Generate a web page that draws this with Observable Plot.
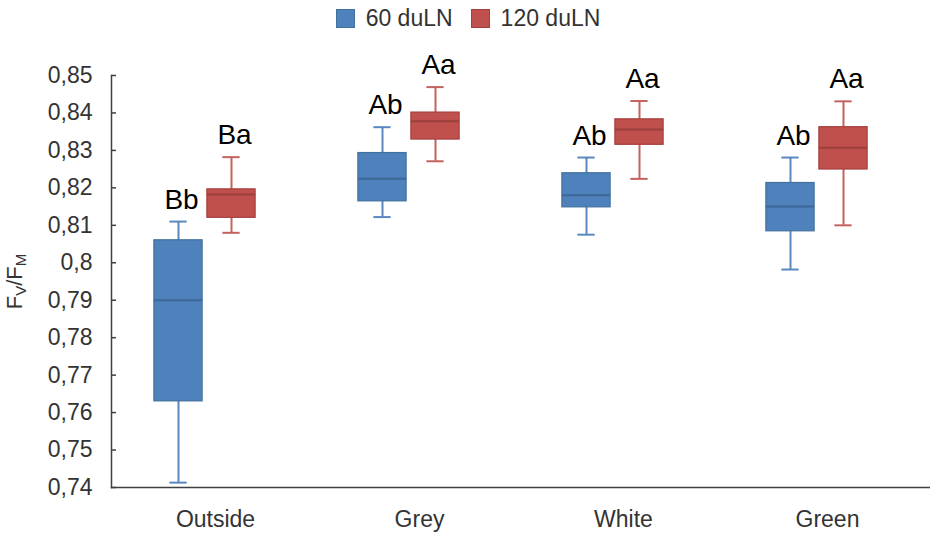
<!DOCTYPE html>
<html>
<head>
<meta charset="utf-8">
<script src="https://cdn.jsdelivr.net/npm/d3@7"></script>
<script src="https://cdn.jsdelivr.net/npm/@observablehq/plot@0.6"></script>
<style>
  html, body { margin: 0; padding: 0; background: #fff; }
  body { width: 930px; height: 533px; overflow: hidden; font-family: "Liberation Sans", Arial, sans-serif; }
  #legend { height: 36px; display: flex; align-items: center; justify-content: center; padding-left: 6px; box-sizing: border-box; font-size: 23px; color: #333; }
  .item { display: flex; align-items: center; }
  .sw { width: 19px; height: 19px; box-sizing: border-box; margin-right: 11px; }
  .item + .item { margin-left: 18px; }
</style>
</head>
<body>
<div id="legend"></div>
<div id="chart"></div>
<script>
// ---- data ----
const categories = ["Outside", "Grey", "White", "Green"];
const seriesNames = ["60 duLN", "120 duLN"];

const min60    = [0.7413, 0.8122, 0.8075, 0.7982];
const q1_60    = [0.7630, 0.8164, 0.8148, 0.8084];
const median60 = [0.7900, 0.8224, 0.8180, 0.8150];
const q3_60    = [0.8060, 0.8293, 0.8239, 0.8213];
const max60    = [0.8110, 0.8362, 0.8281, 0.8281];
const letters60 = ["Bb", "Ab", "Ab", "Ab"];

const min120    = [0.8080, 0.8271, 0.8224, 0.8100];
const q1_120    = [0.8120, 0.8329, 0.8315, 0.8249];
const median120 = [0.8182, 0.8378, 0.8356, 0.8307];
const q3_120    = [0.8196, 0.8401, 0.8383, 0.8362];
const max120    = [0.8282, 0.8469, 0.8432, 0.8431];
const letters120 = ["Ba", "Aa", "Aa", "Aa"];

const yTicks = d3.range(74, 86).map(v => v / 100);
const yDomain = [0.74, 0.85];

// ---- layout / style ----
const W = 930, H = 497, ML = 111, MR = 0, MT = 39, MB = 46;
const B = (W - ML - MR) / categories.length;   // band width
const BOX_W = 49, CAP_W = 18, TICK_LEN = 5;
const styles = {
  "60 duLN":  {off: -37, fill: "#4F81BD", stroke: "#41719C", whisker: "#5A87BE", median: "#3C6796"},
  "120 duLN": {off: 16,  fill: "#C0504D", stroke: "#A5403D", whisker: "#C4625F", median: "#9A3F3C"}
};

const rowsFor = (name, mins, q1s, meds, q3s, maxs, letters) =>
  categories.map((c, i) => ({cat: c, series: name, min: mins[i], q1: q1s[i], med: meds[i], q3: q3s[i], max: maxs[i], letter: letters[i]}));

const data = {
  "60 duLN":  rowsFor("60 duLN",  min60,  q1_60,  median60,  q3_60,  max60,  letters60),
  "120 duLN": rowsFor("120 duLN", min120, q1_120, median120, q3_120, max120, letters120)
};

const fmt = d => String(+d.toFixed(2)).replace(".", ",");

const marks = [];
for (const s of seriesNames) {
  const st = styles[s];
  const rows = data[s];
  const boxInsets = {insetLeft: B / 2 + st.off - BOX_W / 2, insetRight: B / 2 - st.off - BOX_W / 2};
  const capInsets = {insetLeft: B / 2 + st.off - CAP_W / 2, insetRight: B / 2 - st.off - CAP_W / 2};
  marks.push(
    Plot.ruleX(rows, {x: "cat", y1: "min", y2: "max", dx: st.off, stroke: st.whisker, strokeWidth: 2}),
    Plot.tickY(rows, {x: "cat", y: "min", stroke: st.whisker, strokeWidth: 2, ...capInsets}),
    Plot.tickY(rows, {x: "cat", y: "max", stroke: st.whisker, strokeWidth: 2, ...capInsets}),
    Plot.barY(rows, {x: "cat", y1: "q1", y2: "q3", fill: st.fill, stroke: st.stroke, strokeWidth: 1.2, ...boxInsets}),
    Plot.tickY(rows, {x: "cat", y: "med", stroke: st.median, strokeWidth: 2, ...boxInsets}),
    Plot.text(rows, {x: "cat", y: "max", text: "letter", dx: st.off + 3, dy: -13, lineAnchor: "bottom", fontSize: 28, fill: "#000"})
  );
}

const chart = Plot.plot({
  width: W, height: H,
  marginLeft: ML, marginRight: MR, marginTop: MT, marginBottom: MB,
  style: {fontFamily: "'Liberation Sans', Arial, sans-serif", fontSize: "23px", color: "#404040", background: "#fff"},
  x: {domain: categories, padding: 0, label: null},
  y: {domain: yDomain, label: null},
  marks: [
    Plot.axisY({ticks: yTicks, tickFormat: fmt, tickSize: 0, tickPadding: 19, label: "FV/FM", labelAnchor: "center", labelOffset: 105, fill: "#333"}),
    Plot.tickY(yTicks, {y: d => d, insetRight: W - ML - MR - TICK_LEN, stroke: "#404040", strokeWidth: 1.5}),
    Plot.axisX({tickSize: 0, tickPadding: 23, label: null, fill: "#333"}),
    Plot.frame({anchor: "left", stroke: "#404040", strokeWidth: 1.5}),
    Plot.frame({anchor: "bottom", stroke: "#404040", strokeWidth: 1.5}),
    ...marks
  ]
});
document.getElementById("chart").appendChild(chart);

// y-axis title with subscripts
const lbl = chart.querySelector('[aria-label="y-axis label"] text');
if (lbl) {
  lbl.textContent = "";
  const ns = "http://www.w3.org/2000/svg";
  const parts = [["F", false], ["V", true], ["/F", false], ["M", true]];
  for (const [t, sub] of parts) {
    const ts = document.createElementNS(ns, "tspan");
    ts.textContent = t;
    if (sub) { ts.setAttribute("baseline-shift", "-25%"); ts.setAttribute("font-size", "15px"); }
    lbl.appendChild(ts);
  }
  lbl.setAttribute("font-size", "22px");
}

// legend
const legend = document.getElementById("legend");
for (const s of seriesNames) {
  const item = document.createElement("div");
  item.className = "item";
  const sw = document.createElement("div");
  sw.className = "sw";
  sw.style.background = styles[s].fill;
  sw.style.border = "1px solid " + styles[s].stroke;
  const tx = document.createElement("span");
  tx.textContent = s;
  item.appendChild(sw); item.appendChild(tx);
  legend.appendChild(item);
}
</script>
</body>
</html>
